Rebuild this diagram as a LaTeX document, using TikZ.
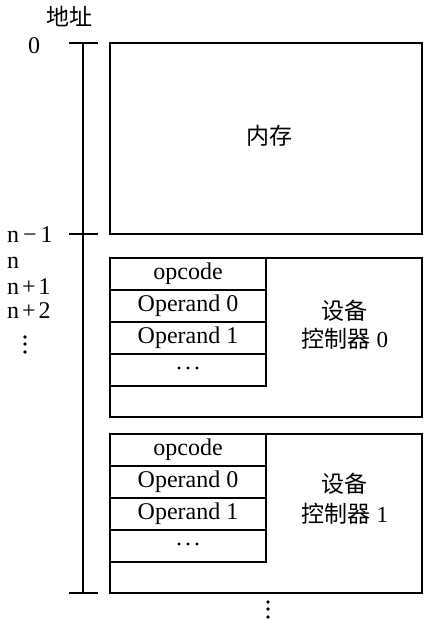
\documentclass[tikz,border=0pt]{standalone}
\usepackage{fontspec}
\setmainfont{Liberation Serif}
\newfontfamily\cjk{Noto Sans CJK SC}
\begin{document}
\begin{tikzpicture}[x=1pt,y=-1pt,
  box/.style={draw,line width=1.3pt,rectangle,inner sep=0pt},
  cell/.style={draw,line width=1.3pt,rectangle,inner sep=0pt,minimum width=156pt,minimum height=32pt,font=\fontsize{24}{26}\selectfont},
  lbl/.style={inner sep=0pt,font=\fontsize{24}{26}\selectfont},
  clbl/.style={inner sep=0pt,font=\fontsize{23}{26}\selectfont},
  dotc/.style={fill=black},
  axis/.style={line width=1.1pt}]
\useasboundingbox (0,0) rectangle (446,630);
% address axis
\node[clbl] (addr) at (69,16) {\cjk 地址};
\coordinate (t0l) at (69,43); \coordinate (t0r) at (98,43);
\coordinate (t1l) at (69,234); \coordinate (t1r) at (98,234);
\coordinate (t2l) at (69,593); \coordinate (t2r) at (98,593);
\coordinate (atop) at (83,43); \coordinate (abot) at (83,593);
\draw[axis] (atop) -- (abot);
\draw[axis] (t0l) -- (t0r);
\draw[axis] (t1l) -- (t1r);
\draw[axis] (t2l) -- (t2r);
\node[lbl] (a0) at (34,46) {0};
\node[lbl,anchor=west] (an1) at (7,235) {n\kern4pt−\kern4pt1};
\node[lbl,anchor=west] (an) at (7,263) {n};
\node[lbl,anchor=west] (anp1) at (7,287) {n\kern3pt+\kern3pt1};
\node[lbl,anchor=west] (anp2) at (7,311) {n\kern3pt+\kern3pt2};
\coordinate (av) at (25,344);
\foreach \dy in {-7,0,8} \fill[dotc] ([yshift=-\dy pt]av) circle (1.8pt);
% memory
\node[box,minimum width=312pt,minimum height=191pt] (mem) at (266,138.5) {};
\node[clbl] (memt) at (269,136) {\cjk 内存};
% device controller 0
\node[box,minimum width=312pt,minimum height=159pt] (d0) at (266,337.5) {};
\node[cell] (d0c0) at (188,274) {opcode};
\node[cell] (d0c1) at (188,306) {Operand 0};
\node[cell] (d0c2) at (188,338) {Operand 1};
\node[cell] (d0c3) at (188,370) {};
\foreach \dx in {-9,0,9} \fill[dotc] ([xshift=\dx pt,yshift=2pt]d0c3.center) circle (1.7pt);
\node[clbl] (d0t1) at (344,311) {\cjk 设备};
\node[clbl] (d0t2) at (345,339) {{\cjk 控制器} 0};
% device controller 1
\node[box,minimum width=312pt,minimum height=159pt] (d1) at (266,513.5) {};
\node[cell] (d1c0) at (188,450) {opcode};
\node[cell] (d1c1) at (188,482) {Operand 0};
\node[cell] (d1c2) at (188,514) {Operand 1};
\node[cell] (d1c3) at (188,546) {};
\foreach \dx in {-9,0,9} \fill[dotc] ([xshift=\dx pt,yshift=2pt]d1c3.center) circle (1.7pt);
\node[clbl] (d1t1) at (344,484) {\cjk 设备};
\node[clbl] (d1t2) at (345,514) {{\cjk 控制器} 1};
\coordinate (bv) at (268,609);
\foreach \dy in {-7,0,8} \fill[dotc] ([yshift=-\dy pt]bv) circle (1.8pt);
\end{tikzpicture}
\end{document}
